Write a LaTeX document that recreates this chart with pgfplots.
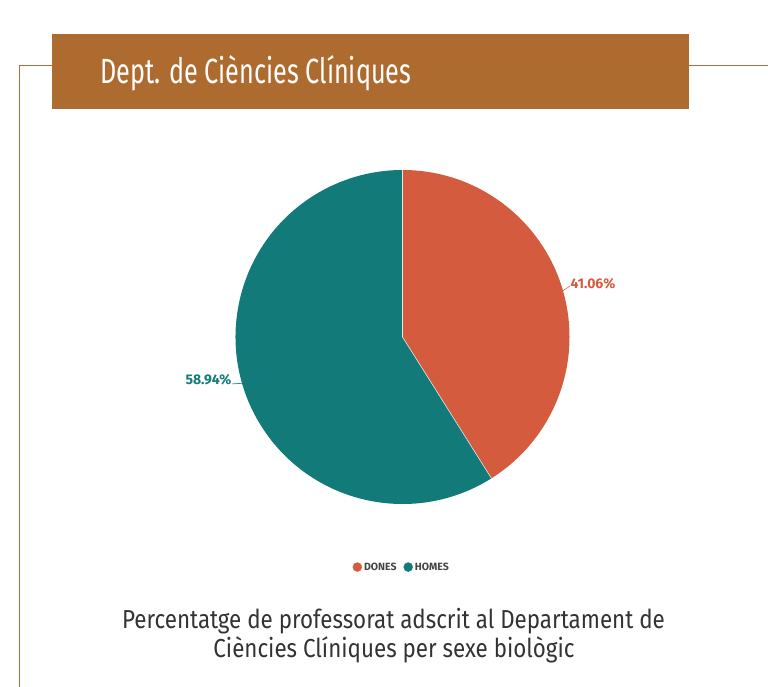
\documentclass[border=0pt]{standalone}
\usepackage{pgfplots}
\pgfplotsset{compat=1.18}
\usepackage{pgfplotstable}
\usepackage{fontspec}
\setmainfont{Fira Sans}
\newfontfamily\condfont{Fira Sans}[FakeStretch=0.72]
\newfontfamily\capfont{Fira Sans}[FakeStretch=0.86]
\definecolor{banner}{RGB}{173,107,48}
\definecolor{frameline}{RGB}{176,110,55}
\definecolor{donesc}{RGB}{212,91,62}
\definecolor{homesc}{RGB}{19,122,122}
\definecolor{captxt}{RGB}{51,51,51}
\definecolor{legtxt}{RGB}{68,68,68}

\pgfplotstableread{
label value
Dones 41.06
Homes 58.94
}\piedata

\begin{document}
\begin{tikzpicture}
\pgfplotstablegetelem{0}{value}\of\piedata \global\let\vA\pgfplotsretval
\pgfplotstablegetelem{1}{value}\of\piedata \global\let\vB\pgfplotsretval
\pgfmathsetmacro{\aEnd}{90-3.6*\vA}
\pgfmathsetmacro{\bEnd}{\aEnd-3.6*\vB}
\pgfmathsetmacro{\aMid}{90-1.8*\vA}
\pgfmathsetmacro{\bMid}{\aEnd-1.8*\vB}

% frame lines
\draw[frameline, line width=1.1pt] (19.5pt,0pt) -- (19.5pt,621.5pt) -- (52pt,621.5pt);
\draw[frameline, line width=1.1pt] (689pt,621.5pt) -- (768pt,621.5pt);
% banner
\fill[banner] (52pt,578pt) rectangle (689pt,653pt);
\node[anchor=base west, text=white, font=\condfont\fontsize{35}{35}\selectfont, inner sep=0pt] at (100pt,603pt) {Dept. de Ciències Clíniques};

\begin{axis}[
  at={(402.5pt,350pt)}, anchor=center,
  x=167pt, y=167pt,
  xmin=-1.2, xmax=1.2, ymin=-1.2, ymax=1.2,
  hide axis, clip=false,
  legend columns=2,
  legend style={at={(0.498,-0.074)}, anchor=center, draw=none, fill=none,
    font=\bfseries\fontsize{10.5}{11}\selectfont\color{legtxt},
    /tikz/every even column/.append style={column sep=5pt}},
]
\addlegendimage{legend image code/.code={\fill[donesc] (4.5pt,0pt) circle[radius=4.5pt];}}
\addlegendentry{DONES}
\addlegendimage{legend image code/.code={\fill[homesc] (4.5pt,0pt) circle[radius=4.5pt];}}
\addlegendentry{HOMES}

\fill[donesc] (axis cs:0,0) -- (axis cs:0,1) arc[start angle=90, end angle=\aEnd, radius=167pt] -- cycle;
\fill[homesc] (axis cs:0,0) -- (axis cs:{cos(\aEnd)},{sin(\aEnd)}) arc[start angle=\aEnd, end angle=\bEnd, radius=167pt] -- cycle;
\draw[white!80!gray, line width=0.6pt] (axis cs:0,1) -- (axis cs:0,0) -- (axis cs:{cos(\aEnd)},{sin(\aEnd)});

\draw[donesc, line width=0.6pt] (axis cs:{cos(\aMid)},{sin(\aMid)}) -- (axis cs:1.003,0.305);
\node[anchor=west, text=donesc, font=\bfseries\fontsize{14}{14}\selectfont, inner sep=0.5pt] at (axis cs:1.003,0.317) {41.06\%};
\draw[homesc, line width=0.6pt] (axis cs:{cos(\bMid)},{sin(\bMid)}) -- (axis cs:-1.021,-0.281);
\node[anchor=east, text=homesc, font=\bfseries\fontsize{14}{14}\selectfont, inner sep=0.5pt] at (axis cs:-1.021,-0.257) {58.94\%};
\end{axis}

% caption
\node[anchor=base, text=captxt, font=\capfont\fontsize{26}{26}\selectfont, inner sep=0pt] at (393.5pt,58pt) {Percentatge de professorat adscrit al Departament de};
\node[anchor=base, text=captxt, font=\capfont\fontsize{26}{26}\selectfont, inner sep=0pt] at (394pt,29pt) {Ciències Clíniques per sexe biològic};

\pgfresetboundingbox
\path[use as bounding box] (0pt,0pt) rectangle (768pt,687pt);
\end{tikzpicture}
\end{document}
